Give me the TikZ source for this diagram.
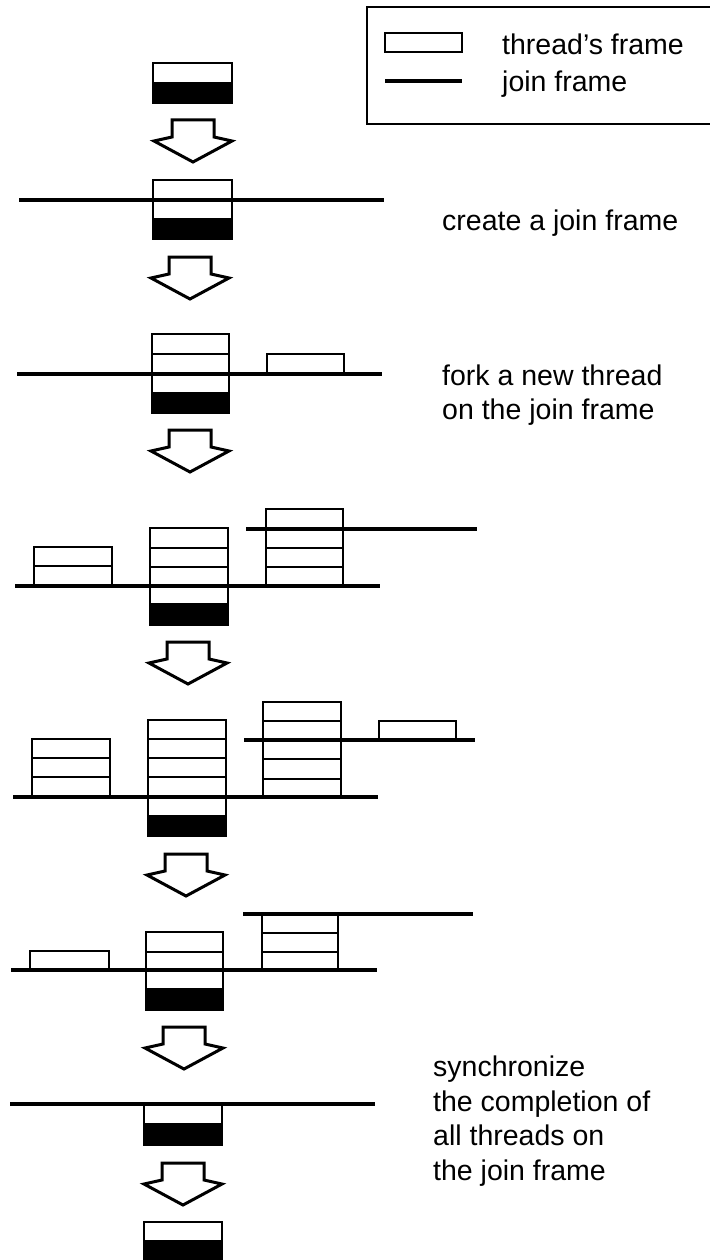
\documentclass[tikz,border=0pt]{standalone}
\usepackage{fontspec}
\setmainfont{Liberation Sans}
\newcommand\fr[5]{\draw[#1] (#2,#4) rectangle (#3,#5);}
\newcommand\jl[3]{\draw[joinline] (#1,#3) -- (#2,#3);}
\newcommand\blockarr[2]{%
  \draw[blockarrow] (#1-21,#2) -- (#1+21,#2) -- (#1+21,#2+17) -- (#1+39,#2+21)
    -- (#1,#2+42) -- (#1-39,#2+21) -- (#1-21,#2+17) -- cycle;}
\begin{document}
\begin{tikzpicture}[x=1pt,y=-1pt,
  wframe/.style={draw=black,fill=white,line width=1.4pt},
  bframe/.style={draw=black,fill=black,line width=1.4pt},
  joinline/.style={line width=4.5pt},
  blockarrow/.style={draw=black,fill=white,line width=3pt,line join=miter},
  legendbox/.style={draw=black,line width=1.2pt},
  lbl/.style={anchor=base west,inner sep=0pt,font=\fontsize{28.5}{34}\selectfont}]
\useasboundingbox (0,0) rectangle (709,1260);

% legend
\draw[legendbox] (712,7) -- (367,7) -- (367,124) -- (712,124);
\fr{wframe}{385}{462}{33}{52}
\jl{385}{462}{81}
\node[lbl] (legthread) at (502,55) {thread's frame};
\node[lbl] (legjoin) at (502,92) {join frame};

% stage 1
\fr{wframe}{153}{232}{63}{83}
\fr{bframe}{153}{232}{83}{103}
\blockarr{193}{120}

% stage 2
\fr{wframe}{153}{232}{180}{200}
\fr{wframe}{153}{232}{200}{219}
\fr{bframe}{153}{232}{219}{239}
\jl{19}{384}{200}
\node[lbl] (create) at (442,230) {create a join frame};
\blockarr{190}{257}

% stage 3
\fr{wframe}{152}{229}{334}{354}
\fr{wframe}{152}{229}{354}{374}
\fr{wframe}{152}{229}{374}{393}
\fr{bframe}{152}{229}{393}{413}
\fr{wframe}{267}{344}{354}{374}
\jl{17}{382}{374}
\node[lbl] (fork1) at (442,385) {fork a new thread};
\node[lbl] (fork2) at (442,419) {on the join frame};
\blockarr{190}{430}

% stage 4
\fr{wframe}{34}{112}{547}{566}
\fr{wframe}{34}{112}{566}{586}
\fr{wframe}{150}{228}{528}{548}
\fr{wframe}{150}{228}{548}{567}
\fr{wframe}{150}{228}{567}{586}
\fr{wframe}{150}{228}{586}{604}
\fr{bframe}{150}{228}{604}{625}
\fr{wframe}{266}{343}{509}{529}
\fr{wframe}{266}{343}{529}{548}
\fr{wframe}{266}{343}{548}{567}
\fr{wframe}{266}{343}{567}{586}
\jl{15}{380}{586}
\jl{246}{477}{529}
\blockarr{188}{642}

% stage 5
\fr{wframe}{32}{110}{739}{758}
\fr{wframe}{32}{110}{758}{777}
\fr{wframe}{32}{110}{777}{797}
\fr{wframe}{148}{226}{720}{739}
\fr{wframe}{148}{226}{739}{758}
\fr{wframe}{148}{226}{758}{777}
\fr{wframe}{148}{226}{777}{797}
\fr{wframe}{148}{226}{797}{816}
\fr{bframe}{148}{226}{816}{836}
\fr{wframe}{263}{341}{702}{721}
\fr{wframe}{263}{341}{721}{740}
\fr{wframe}{263}{341}{740}{759}
\fr{wframe}{263}{341}{759}{779}
\fr{wframe}{263}{341}{779}{797}
\fr{wframe}{379}{456}{721}{740}
\jl{13}{378}{797}
\jl{244}{475}{740}
\blockarr{186}{854}

% stage 6
\fr{wframe}{30}{109}{951}{970}
\fr{wframe}{146}{223}{932}{952}
\fr{wframe}{146}{223}{952}{970}
\fr{wframe}{146}{223}{970}{989}
\fr{bframe}{146}{223}{989}{1010}
\fr{wframe}{262}{338}{914}{933}
\fr{wframe}{262}{338}{933}{952}
\fr{wframe}{262}{338}{952}{970}
\jl{11}{377}{970}
\jl{243}{473}{914}
\blockarr{184}{1027}

% stage 7
\fr{wframe}{144}{222}{1104}{1124}
\fr{bframe}{144}{222}{1124}{1145}
\jl{10}{375}{1104}
\node[lbl] (sync1) at (433,1076) {synchronize};
\node[lbl] (sync2) at (433,1111) {the completion of};
\node[lbl] (sync3) at (433,1145) {all threads on};
\node[lbl] (sync4) at (433,1180) {the join frame};
\blockarr{183}{1163}

% stage 8
\fr{wframe}{144}{222}{1222}{1241}
\fr{bframe}{144}{222}{1241}{1259}
\end{tikzpicture}
\end{document}
